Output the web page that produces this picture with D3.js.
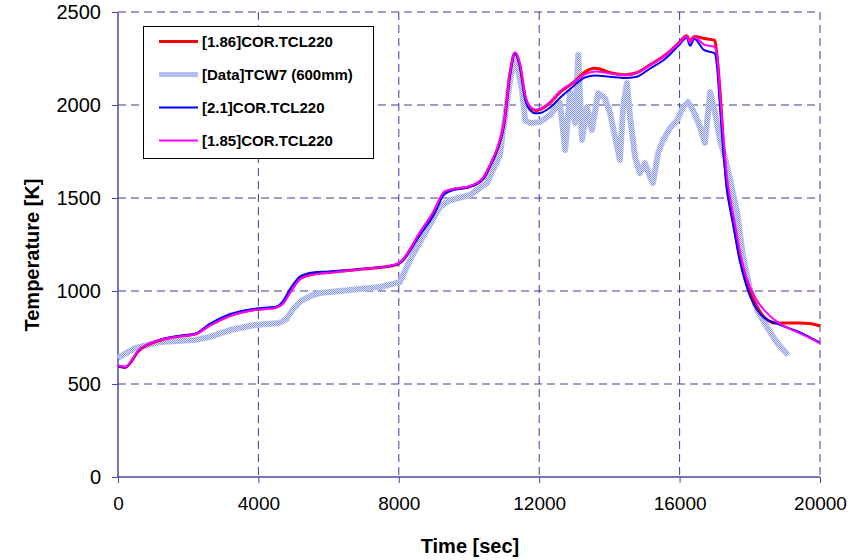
<!DOCTYPE html>
<html>
<head>
<meta charset="utf-8">
<script src="https://cdn.jsdelivr.net/npm/d3@7"></script>
<style>
  body { margin: 0; background: #fff; }
  svg { display: block; font-family: "Liberation Sans", Arial, sans-serif; }
</style>
</head>
<body>
<svg id="chart" width="860" height="560"></svg>
<script>
var xTicks = [0, 4000, 8000, 12000, 16000, 20000];
var yTicks = [0, 500, 1000, 1500, 2000, 2500];

var modelTime = [0, 200, 600, 1200, 1800, 2200, 2600, 3200, 3900, 4500, 4700, 4900, 5200, 5550, 6000, 7000, 7900, 8050, 8600, 9000, 9300, 9600, 10000, 10400, 10600, 10800, 11000, 11170, 11310, 11450, 11600, 11750, 11900, 12050, 12300, 12600, 13000, 13300, 13600, 14000, 14450, 14750, 15150, 15600, 16000, 16200, 16300, 16420, 16700, 17000, 17070, 17150, 17250, 17350, 17450, 17550, 17700, 17900, 18200, 18500, 18700, 19000, 19400, 19700, 20000];

var red186 = [597, 590, 680, 735, 758, 768, 815, 868, 900, 912, 935, 995, 1068, 1090, 1100, 1118, 1140, 1155, 1310, 1425, 1530, 1548, 1560, 1605, 1675, 1760, 1900, 2170, 2280, 2215, 2045, 1985, 1970, 1978, 2010, 2070, 2125, 2178, 2198, 2175, 2162, 2172, 2215, 2270, 2338, 2372, 2345, 2368, 2358, 2348, 2260, 2080, 1790, 1570, 1455, 1350, 1195, 1050, 915, 845, 828, 828, 828, 825, 812];

var blue21 = [597, 588, 682, 738, 760, 770, 822, 876, 905, 915, 945, 1010, 1080, 1100, 1105, 1120, 1140, 1152, 1300, 1410, 1520, 1545, 1558, 1600, 1670, 1755, 1895, 2165, 2275, 2205, 2030, 1970, 1955, 1958, 1985, 2040, 2105, 2148, 2158, 2152, 2145, 2150, 2195, 2250, 2325, 2362, 2318, 2355, 2295, 2278, 2200, 1990, 1740, 1540, 1430, 1330, 1175, 1030, 900, 845, 830, 808, 780, 752, 722];

var mag185 = [600, 592, 684, 737, 757, 767, 812, 866, 898, 910, 932, 990, 1065, 1088, 1098, 1118, 1142, 1156, 1315, 1430, 1535, 1550, 1562, 1607, 1678, 1765, 1905, 2175, 2282, 2220, 2050, 1990, 1975, 1982, 2015, 2075, 2125, 2165, 2180, 2170, 2160, 2170, 2212, 2268, 2335, 2370, 2335, 2365, 2325, 2312, 2260, 2060, 1820, 1610, 1490, 1390, 1230, 1075, 950, 880, 845, 808, 775, 748, 718];

var dataTime = [0, 480, 1200, 2190, 2600, 3190, 3900, 4600, 4800, 5000, 5200, 5500, 5750, 6610, 7460, 8030, 8320, 8750, 9170, 9460, 10030, 10510, 10880, 11170, 11310, 11510, 11600, 11740, 12020, 12310, 12590, 12740, 12880, 13020, 13110, 13220, 13360, 13500, 13680, 13870, 14020, 14160, 14300, 14390, 14500, 14590, 14730, 14870, 15010, 15160, 15240, 15390, 15530, 15730, 15930, 16100, 16240, 16380, 16580, 16720, 16870, 17010, 17150, 17290, 17440, 17640, 17810, 18010, 18210, 18490, 18780, 19090];
var dataTCW7 = [640, 693, 726, 737, 752, 790, 817, 828, 850, 905, 945, 975, 989, 1005, 1021, 1048, 1167, 1312, 1452, 1489, 1516, 1581, 1730, 2134, 2269, 2080, 1919, 1903, 1908, 1946, 2011, 1758, 2070, 1903, 2269, 1812, 1989, 1866, 2064, 2037, 1957, 1828, 1704, 1989, 2118, 1935, 1720, 1634, 1688, 1613, 1581, 1742, 1812, 1876, 1919, 1989, 2016, 1973, 1882, 1796, 2070, 1957, 1812, 1720, 1597, 1419, 1183, 1005, 898, 806, 720, 656];

var svg = d3.select("#chart");
var pLeft = 118, pRight = 820, pTop = 12, pBottom = 477;

var x = d3.scaleLinear().domain([0, 20000]).range([pLeft, pRight]);
var y = d3.scaleLinear().domain([0, 2500]).range([pBottom, pTop]);

var gridColor = "#3d3d9c";

// checker texture for the measured data line
var pat = svg.append("defs").append("pattern")
  .attr("id", "dots").attr("patternUnits", "userSpaceOnUse")
  .attr("width", 2).attr("height", 2);
pat.append("rect").attr("width", 2).attr("height", 2).attr("fill", "#dde1fa");
pat.append("rect").attr("width", 1).attr("height", 1).attr("fill", "#8898e8");
pat.append("rect").attr("x", 1).attr("y", 1).attr("width", 1).attr("height", 1).attr("fill", "#8898e8");

// grid
svg.append("g").selectAll("line").data(yTicks.slice(1)).join("line")
  .attr("x1", pLeft).attr("x2", pRight)
  .attr("y1", function(d) { return y(d); }).attr("y2", function(d) { return y(d); })
  .attr("stroke", gridColor).attr("stroke-width", 1).attr("stroke-dasharray", "8,5");
svg.append("g").selectAll("line").data(xTicks.slice(1)).join("line")
  .attr("y1", pTop).attr("y2", pBottom)
  .attr("x1", function(d) { return x(d); }).attr("x2", function(d) { return x(d); })
  .attr("stroke", gridColor).attr("stroke-width", 1).attr("stroke-dasharray", "8,5");

// axes
var xAxis = svg.append("g").attr("transform", "translate(0," + pBottom + ")")
  .call(d3.axisBottom(x).tickValues(xTicks).tickSize(6).tickPadding(14).tickFormat(d3.format("d")));
var yAxis = svg.append("g").attr("transform", "translate(" + pLeft + ",0)")
  .call(d3.axisLeft(y).tickValues(yTicks).tickSize(6).tickPadding(11).tickFormat(d3.format("d")));
[xAxis, yAxis].forEach(function(g) {
  g.select(".domain").attr("stroke", "#4848a8").attr("stroke-width", 1.5);
  g.selectAll(".tick line").attr("stroke", "#4848a8");
  g.selectAll(".tick text").attr("font-size", 19).attr("fill", "#000")
    .attr("font-family", "Liberation Sans, Arial, sans-serif");
});
xAxis.select(".domain").attr("d", "M" + pLeft + ",0H" + pRight);
yAxis.select(".domain").attr("d", "M0," + pBottom + "V" + pTop);
yAxis.selectAll(".tick text").attr("font-size", 20);

// lines
var line = d3.line()
  .x(function(d) { return x(d[0]); })
  .y(function(d) { return y(d[1]); });
var smooth = d3.line()
  .x(function(d) { return x(d[0]); })
  .y(function(d) { return y(d[1]); })
  .curve(d3.curveMonotoneX);

svg.append("path").datum(d3.zip(dataTime, dataTCW7))
  .attr("d", line).attr("fill", "none")
  .attr("stroke", "url(#dots)").attr("stroke-width", 6).attr("stroke-linejoin", "round");

var models = [
  { v: red186, color: "#ff0000", w: 3 },
  { v: blue21, color: "#0000ff", w: 2 },
  { v: mag185, color: "#ff00ff", w: 2 }
];
models.forEach(function(m) {
  svg.append("path").datum(d3.zip(modelTime, m.v))
    .attr("d", smooth).attr("fill", "none")
    .attr("stroke", m.color).attr("stroke-width", m.w).attr("stroke-linejoin", "round");
});

// titles
svg.append("text").attr("x", 470).attr("y", 553).attr("text-anchor", "middle")
  .attr("font-size", 20).attr("font-weight", "bold").text("Time [sec]");
svg.append("text").attr("transform", "translate(39,255) rotate(-90)").attr("text-anchor", "middle")
  .attr("font-size", 20).attr("font-weight", "bold").text("Temperature [K]");

// legend
var legendItems = [
  { name: "[1.86]COR.TCL220", color: "#ff0000", w: 3 },
  { name: "[Data]TCW7 (600mm)", color: "url(#dots)", w: 5 },
  { name: "[2.1]COR.TCL220", color: "#0000ff", w: 2 },
  { name: "[1.85]COR.TCL220", color: "#ff00ff", w: 2 }
];
var lg = svg.append("g");
lg.append("rect").attr("x", 143.5).attr("y", 26.5).attr("width", 230).attr("height", 132)
  .attr("fill", "#fff").attr("stroke", "#000").attr("stroke-width", 1);
var rows = lg.selectAll("g").data(legendItems).join("g")
  .attr("transform", function(d, i) { return "translate(0," + (41.5 + i * 33) + ")"; });
rows.append("line").attr("x1", 159).attr("x2", 198)
  .attr("stroke", function(d) { return d.color; })
  .attr("stroke-width", function(d) { return d.w; });
rows.append("text").attr("x", 202).attr("y", 5.5)
  .attr("font-size", 15).attr("font-weight", "bold").text(function(d) { return d.name; });
</script>
</body>
</html>
